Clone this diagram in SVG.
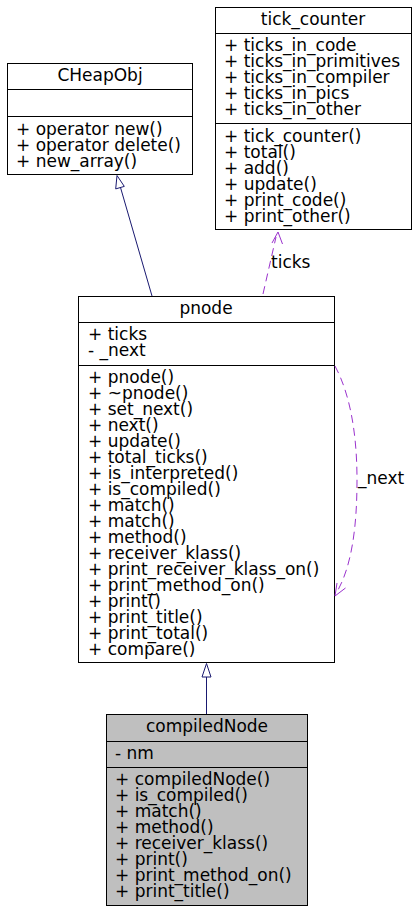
<svg xmlns="http://www.w3.org/2000/svg" width="418" height="914" viewBox="0 0 418 914">
<style>
text{font-family:"DejaVu Sans","Liberation Sans",sans-serif;font-size:17px;fill:#000}
.t{text-anchor:middle}
.box{fill:#fff;stroke:#000;stroke-width:1}
.gray{fill:#bfbfbf;stroke:#000;stroke-width:1}
.sep{stroke:#000;stroke-width:1}
.inh{fill:none;stroke:#191970;stroke-width:1}
.use{fill:none;stroke:#9a32cd;stroke-width:1;stroke-dasharray:8,5}
</style>
<rect width="418" height="914" fill="#fff"/>
<g id="CHeapObj">
<rect class="box" x="7.5" y="63.5" width="185" height="111"/>
<line class="sep" x1="7.5" y1="89.5" x2="192.5" y2="89.5"/>
<line class="sep" x1="7.5" y1="116.5" x2="192.5" y2="116.5"/>
<text class="t" x="100" y="81">CHeapObj</text>
<text x="16" y="135">+ operator new()</text>
<text x="16" y="151">+ operator delete()</text>
<text x="16" y="167">+ new_array()</text>
</g>
<g id="tick_counter">
<rect class="box" x="215.5" y="7.5" width="196" height="222"/>
<line class="sep" x1="215.5" y1="33.5" x2="411.5" y2="33.5"/>
<line class="sep" x1="215.5" y1="123.5" x2="411.5" y2="123.5"/>
<text class="t" x="313" y="25">tick_counter</text>
<text x="224" y="51">+ ticks_in_code</text>
<text x="224" y="67">+ ticks_in_primitives</text>
<text x="224" y="83">+ ticks_in_compiler</text>
<text x="224" y="99">+ ticks_in_pics</text>
<text x="224" y="115">+ ticks_in_other</text>
<text x="224" y="142">+ tick_counter()</text>
<text x="224" y="158">+ total()</text>
<text x="224" y="174">+ add()</text>
<text x="224" y="190">+ update()</text>
<text x="224" y="206">+ print_code()</text>
<text x="224" y="222">+ print_other()</text>
</g>
<g id="pnode">
<rect class="box" x="78.5" y="296.5" width="256" height="366"/>
<line class="sep" x1="78.5" y1="322.5" x2="334.5" y2="322.5"/>
<line class="sep" x1="78.5" y1="365.5" x2="334.5" y2="365.5"/>
<text class="t" x="206" y="314">pnode</text>
<text x="88" y="340">+ ticks</text>
<text x="88" y="356">- _next</text>
<text x="88" y="383">+ pnode()</text>
<text x="88" y="399">+ ~pnode()</text>
<text x="88" y="415">+ set_next()</text>
<text x="88" y="431">+ next()</text>
<text x="88" y="447">+ update()</text>
<text x="88" y="463">+ total_ticks()</text>
<text x="88" y="479">+ is_interpreted()</text>
<text x="88" y="495">+ is_compiled()</text>
<text x="88" y="511">+ match()</text>
<text x="88" y="527">+ match()</text>
<text x="88" y="543">+ method()</text>
<text x="88" y="559">+ receiver_klass()</text>
<text x="88" y="575">+ print_receiver_klass_on()</text>
<text x="88" y="591">+ print_method_on()</text>
<text x="88" y="607">+ print()</text>
<text x="88" y="623">+ print_title()</text>
<text x="88" y="639">+ print_total()</text>
<text x="88" y="655">+ compare()</text>
</g>
<g id="compiledNode">
<rect class="gray" x="106.5" y="714.5" width="201" height="191"/>
<line class="sep" x1="106.5" y1="741.5" x2="307.5" y2="741.5"/>
<line class="sep" x1="106.5" y1="767.5" x2="307.5" y2="767.5"/>
<text class="t" x="207" y="732">compiledNode</text>
<text x="115" y="759">- nm</text>
<text x="115" y="785">+ compiledNode()</text>
<text x="115" y="801">+ is_compiled()</text>
<text x="115" y="817">+ match()</text>
<text x="115" y="833">+ method()</text>
<text x="115" y="849">+ receiver_klass()</text>
<text x="115" y="865">+ print()</text>
<text x="115" y="881">+ print_method_on()</text>
<text x="115" y="897">+ print_title()</text>
</g>
<g id="connectors">
<path class="inh" d="M152,296 L120.5,187.5"/>
<polygon class="inh" fill="#fff" points="117,175.5 115.7,188.9 124.3,186.4"/>
<path class="inh" d="M206.5,714 L206.5,677"/>
<polygon class="inh" fill="#fff" points="206.5,663.5 202,677 211,677"/>
<path class="use" d="M263,294 L276,237"/>
<path fill="none" stroke="#9a32cd" d="M272,243 L278,232 L282.5,244"/>
<text x="271" y="268">ticks</text>
<path class="use" d="M335,366 C349,392 357,430 357,480 C357,530 351,566 338,590"/>
<path fill="none" stroke="#9a32cd" d="M345.5,588 L335,596 L337,583"/>
<text x="358" y="484">_next</text>
</g>
</svg>
